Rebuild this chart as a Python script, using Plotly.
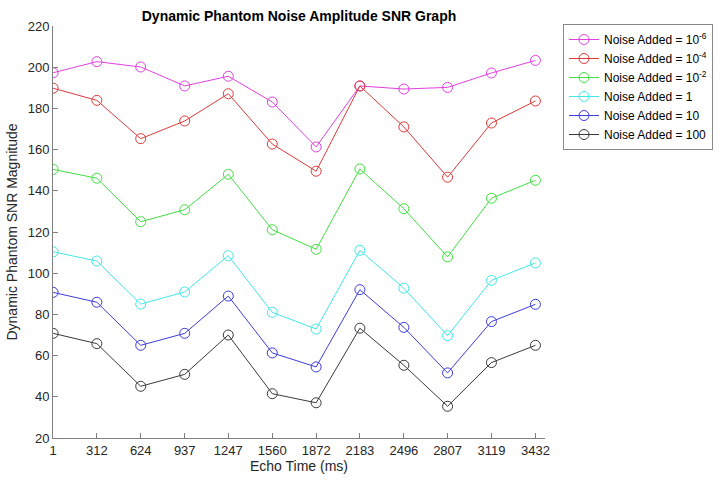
import plotly.graph_objects as go

# Echo times (ms) and SNR magnitude for each level of added noise
echo_time = [1, 312, 624, 937, 1247, 1560, 1872, 2183, 2496, 2807, 3119, 3432]
tick_labels = ["1", "312", "624", "937", "1247", "1560", "1872", "2183", "2496", "2807", "3119", "3432"]

snr_1e_6 = [197.3, 202.7, 200.1, 190.9, 195.6, 183.1, 161.3, 190.9, 189.4, 190.2, 197.2, 203.3]
snr_1e_4 = [189.8, 183.9, 165.3, 173.9, 187.1, 162.7, 149.5, 190.9, 171.0, 146.6, 172.9, 183.6]
snr_1e_2 = [150.4, 146.1, 125.0, 130.8, 148.0, 121.1, 111.6, 150.6, 131.3, 107.9, 136.4, 145.1]
snr_1 = [110.4, 105.9, 85.0, 90.9, 108.5, 81.0, 72.9, 111.1, 92.7, 69.7, 96.5, 105.0]
snr_10 = [90.7, 85.9, 65.0, 70.8, 88.9, 61.3, 54.5, 92.0, 73.7, 51.6, 76.5, 84.9]
snr_100 = [70.8, 65.8, 45.1, 50.9, 70.0, 41.5, 37.1, 73.3, 55.3, 35.4, 56.6, 65.0]

series_names = [
    "Noise Added = 10<sup>-6</sup>",
    "Noise Added = 10<sup>-4</sup>",
    "Noise Added = 10<sup>-2</sup>",
    "Noise Added = 1",
    "Noise Added = 10",
    "Noise Added = 100",
]
series_values = [snr_1e_6, snr_1e_4, snr_1e_2, snr_1, snr_10, snr_100]
series_colors = ["#e040e0", "#de3a3a", "#40e040", "#40e8e8", "#3c3cdc", "#3a3a3a"]

fig = go.Figure()
for name, vals, col in zip(series_names, series_values, series_colors):
    fig.add_trace(go.Scatter(
        x=echo_time, y=vals, name=name, mode="lines+markers",
        line=dict(color=col, width=1),
        marker=dict(symbol="circle-open", size=10, color=col, line=dict(width=1, color=col)),
    ))

font_family = "Liberation Sans, Arial, sans-serif"
axis_grey = "#808080"
text_grey = "#262626"

fig.update_layout(
    width=720, height=482,
    margin=dict(l=53, r=175, t=26, b=44),
    paper_bgcolor="white", plot_bgcolor="white",
    font=dict(family=font_family, size=13, color=text_grey),
    title=dict(
        text="<b>Dynamic Phantom Noise Amplitude SNR Graph</b>",
        x=(53 + 545) / 2 / 720, xanchor="center",
        y=1 - 16 / 482, yanchor="middle",
        font=dict(size=14, color="#000000"),
    ),
    showlegend=True,
    legend=dict(
        xref="container", yref="container",
        x=563 / 720, xanchor="left", y=1 - 24 / 482, yanchor="top",
        bordercolor="#888888", borderwidth=1, bgcolor="white",
        font=dict(size=12, color="#000000"),
        tracegroupgap=0, itemwidth=30,
    ),
    xaxis=dict(
        range=[0, 3500],
        tickmode="array", tickvals=echo_time, ticktext=tick_labels,
        ticks="inside", ticklen=5, tickcolor=axis_grey,
        showline=True, linecolor=axis_grey, linewidth=1,
        showgrid=False, zeroline=False,
        title=dict(text="Echo Time (ms)", standoff=0, font=dict(size=14)),
        tickfont=dict(size=13),
    ),
    yaxis=dict(
        range=[20, 220], dtick=20,
        ticks="inside", ticklen=5, tickcolor=axis_grey,
        showline=True, linecolor=axis_grey, linewidth=1,
        showgrid=False, zeroline=False,
        title=dict(text="Dynamic Phantom SNR Magnitude", standoff=6, font=dict(size=14)),
        tickfont=dict(size=13),
    ),
)

fig.write_html("out.html")
